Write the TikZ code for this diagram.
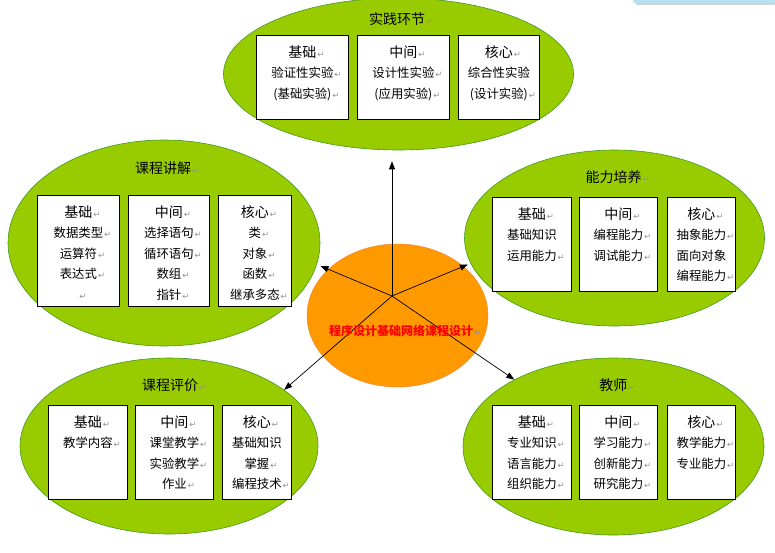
\documentclass[tikz,border=0pt]{standalone}
\usepackage{fontspec}
\usepackage{xcolor}
\usepackage{tikz}
\usetikzlibrary{arrows.meta,positioning,shapes.geometric}
\newfontfamily\cjk{Noto Sans CJK SC}
\newfontfamily\markfont{DejaVu Sans}
\definecolor{lvse}{HTML}{99CC00}
\definecolor{lvbian}{HTML}{3F9A1F}
\definecolor{cheng}{HTML}{FF9900}
\definecolor{chengbian}{HTML}{F58A3C}
\definecolor{hong}{HTML}{FF0000}
\definecolor{qianlan}{HTML}{B5E3F2}
\newcommand{\duan}{\rlap{\hspace{1pt}\textcolor{gray!85}{\markfont\fontsize{8.5}{8.5}\selectfont ↵}}}
\newcommand{\tou}[1]{{\fontsize{14}{20.5}\selectfont #1}}
\tikzset{
  quyu/.style={ellipse, draw=lvbian, line width=0.6pt, fill=lvse, inner sep=0pt},
  kuang/.style 2 args={rectangle, draw, fill=white, line width=0.8pt, inner sep=0pt,
               anchor=north west, align=center, text width=#1pt, text height=22pt,
               text depth=#2pt, font=\cjk\fontsize{12.4}{20.5}\selectfont},
  biaoti/.style={font=\cjk\fontsize{14}{16}\selectfont, inner sep=0pt},
  jian/.style={-{Triangle[length=8pt,width=6pt]}, line width=0.7pt},
}
\begin{document}
\begin{tikzpicture}[x=1pt, y=-1pt]
  \useasboundingbox (0,0) rectangle (775,552);
  \fill[gray!35] (636,-4) rectangle (778,4.5);
  \fill[qianlan, rounded corners=2pt] (633,-6) rectangle (776,3);

  % five areas and the core
  \node[quyu, minimum width=350pt, minimum height=152pt] (sj) at (398.5,74) {};
  \node[quyu, minimum width=312pt, minimum height=206pt] (jj) at (164,243) {};
  \node[quyu, minimum width=300pt, minimum height=176pt] (py) at (614.5,238) {};
  \node[quyu, minimum width=298pt, minimum height=176pt] (pj) at (169,446) {};
  \node[quyu, minimum width=301pt, minimum height=177pt] (js) at (613.5,446.5) {};
  \node[ellipse, draw=chengbian, line width=0.5pt, fill=cheng, inner sep=0pt,
        minimum width=181pt, minimum height=143pt] (core) at (397.5,315.5) {};

  \coordinate (hub) at (392,296);
  \draw[jian, shorten >=11pt] (hub) -- (hub |- sj.south);
  \draw[jian, shorten >=4pt] (hub) -- (jj.-8);
  \draw[jian, shorten >=3pt] (hub) -- (py.190);
  \draw[jian] (hub) -- (pj.26);
  \draw[jian] (hub) -- (js.146);

  \node[font=\cjk\bfseries\fontsize{12}{12}\selectfont, text=hong, inner sep=0pt]
    (coret) at (401,331) {程序设计基础网络课程设计\duan};

  % 实践环节
  \node[biaoti] (sjt) at (397,19) {实践环节\duan};
  \node[kuang={92}{62}] (sj1) at (256,35) {\tou{基础}\duan\\验证性实验\duan\\(基础实验)\duan};
  \node[kuang={92}{62}] (sj2) at (357,35) {\tou{中间}\duan\\设计性实验\duan\\(应用实验)\duan};
  \node[kuang={81}{62}] (sj3) at (458,35) {\tou{核心}\duan\\综合性实验\\(设计实验)\duan};

  % 课程讲解
  \node[biaoti] (jjt) at (163,168) {课程讲解\duan};
  \node[kuang={82}{89}] (jj1) at (37,195) {\tou{基础}\duan\\数据类型\duan\\运算符\duan\\表达式\duan\\\leavevmode\duan};
  \node[kuang={81}{89}] (jj2) at (128,195) {\tou{中间}\duan\\选择语句\duan\\循环语句\duan\\数组\duan\\指针\duan};
  \node[kuang={73}{89}] (jj3) at (218,195) {\tou{核心}\duan\\类\duan\\对象\duan\\函数\duan\\继承多态\duan};

  % 能力培养
  \node[biaoti] (pyt) at (613.5,177) {能力培养\duan};
  \node[kuang={79}{72}] (py1) at (492,197) {\tou{基础}\duan\\基础知识\\运用能力\duan};
  \node[kuang={78}{72}] (py2) at (579,197) {\tou{中间}\duan\\编程能力\duan\\调试能力\duan};
  \node[kuang={68}{72}] (py3) at (667,197) {\tou{核心}\duan\\抽象能力\duan\\面向对象\\编程能力\duan};

  % 课程评价
  \node[biaoti] (pjt) at (170,385) {课程评价\duan};
  \node[kuang={79}{72}] (pj1) at (48,405) {\tou{基础}\duan\\教学内容\duan};
  \node[kuang={78}{72}] (pj2) at (135,405) {\tou{中间}\duan\\课堂教学\duan\\实验教学\duan\\作业\duan};
  \node[kuang={69}{72}] (pj3) at (222,405) {\tou{核心}\duan\\基础知识\\掌握\duan\\编程技术\duan};

  % 教师
  \node[biaoti] (jst) at (613.3,385) {教师\duan};
  \node[kuang={79}{72}] (js1) at (492,405) {\tou{基础}\duan\\专业知识\duan\\语言能力\duan\\组织能力\duan};
  \node[kuang={78}{72}] (js2) at (579,405) {\tou{中间}\duan\\学习能力\duan\\创新能力\duan\\研究能力\duan};
  \node[kuang={68}{72}] (js3) at (667,405) {\tou{核心}\duan\\教学能力\duan\\专业能力\duan};
\end{tikzpicture}
\end{document}
